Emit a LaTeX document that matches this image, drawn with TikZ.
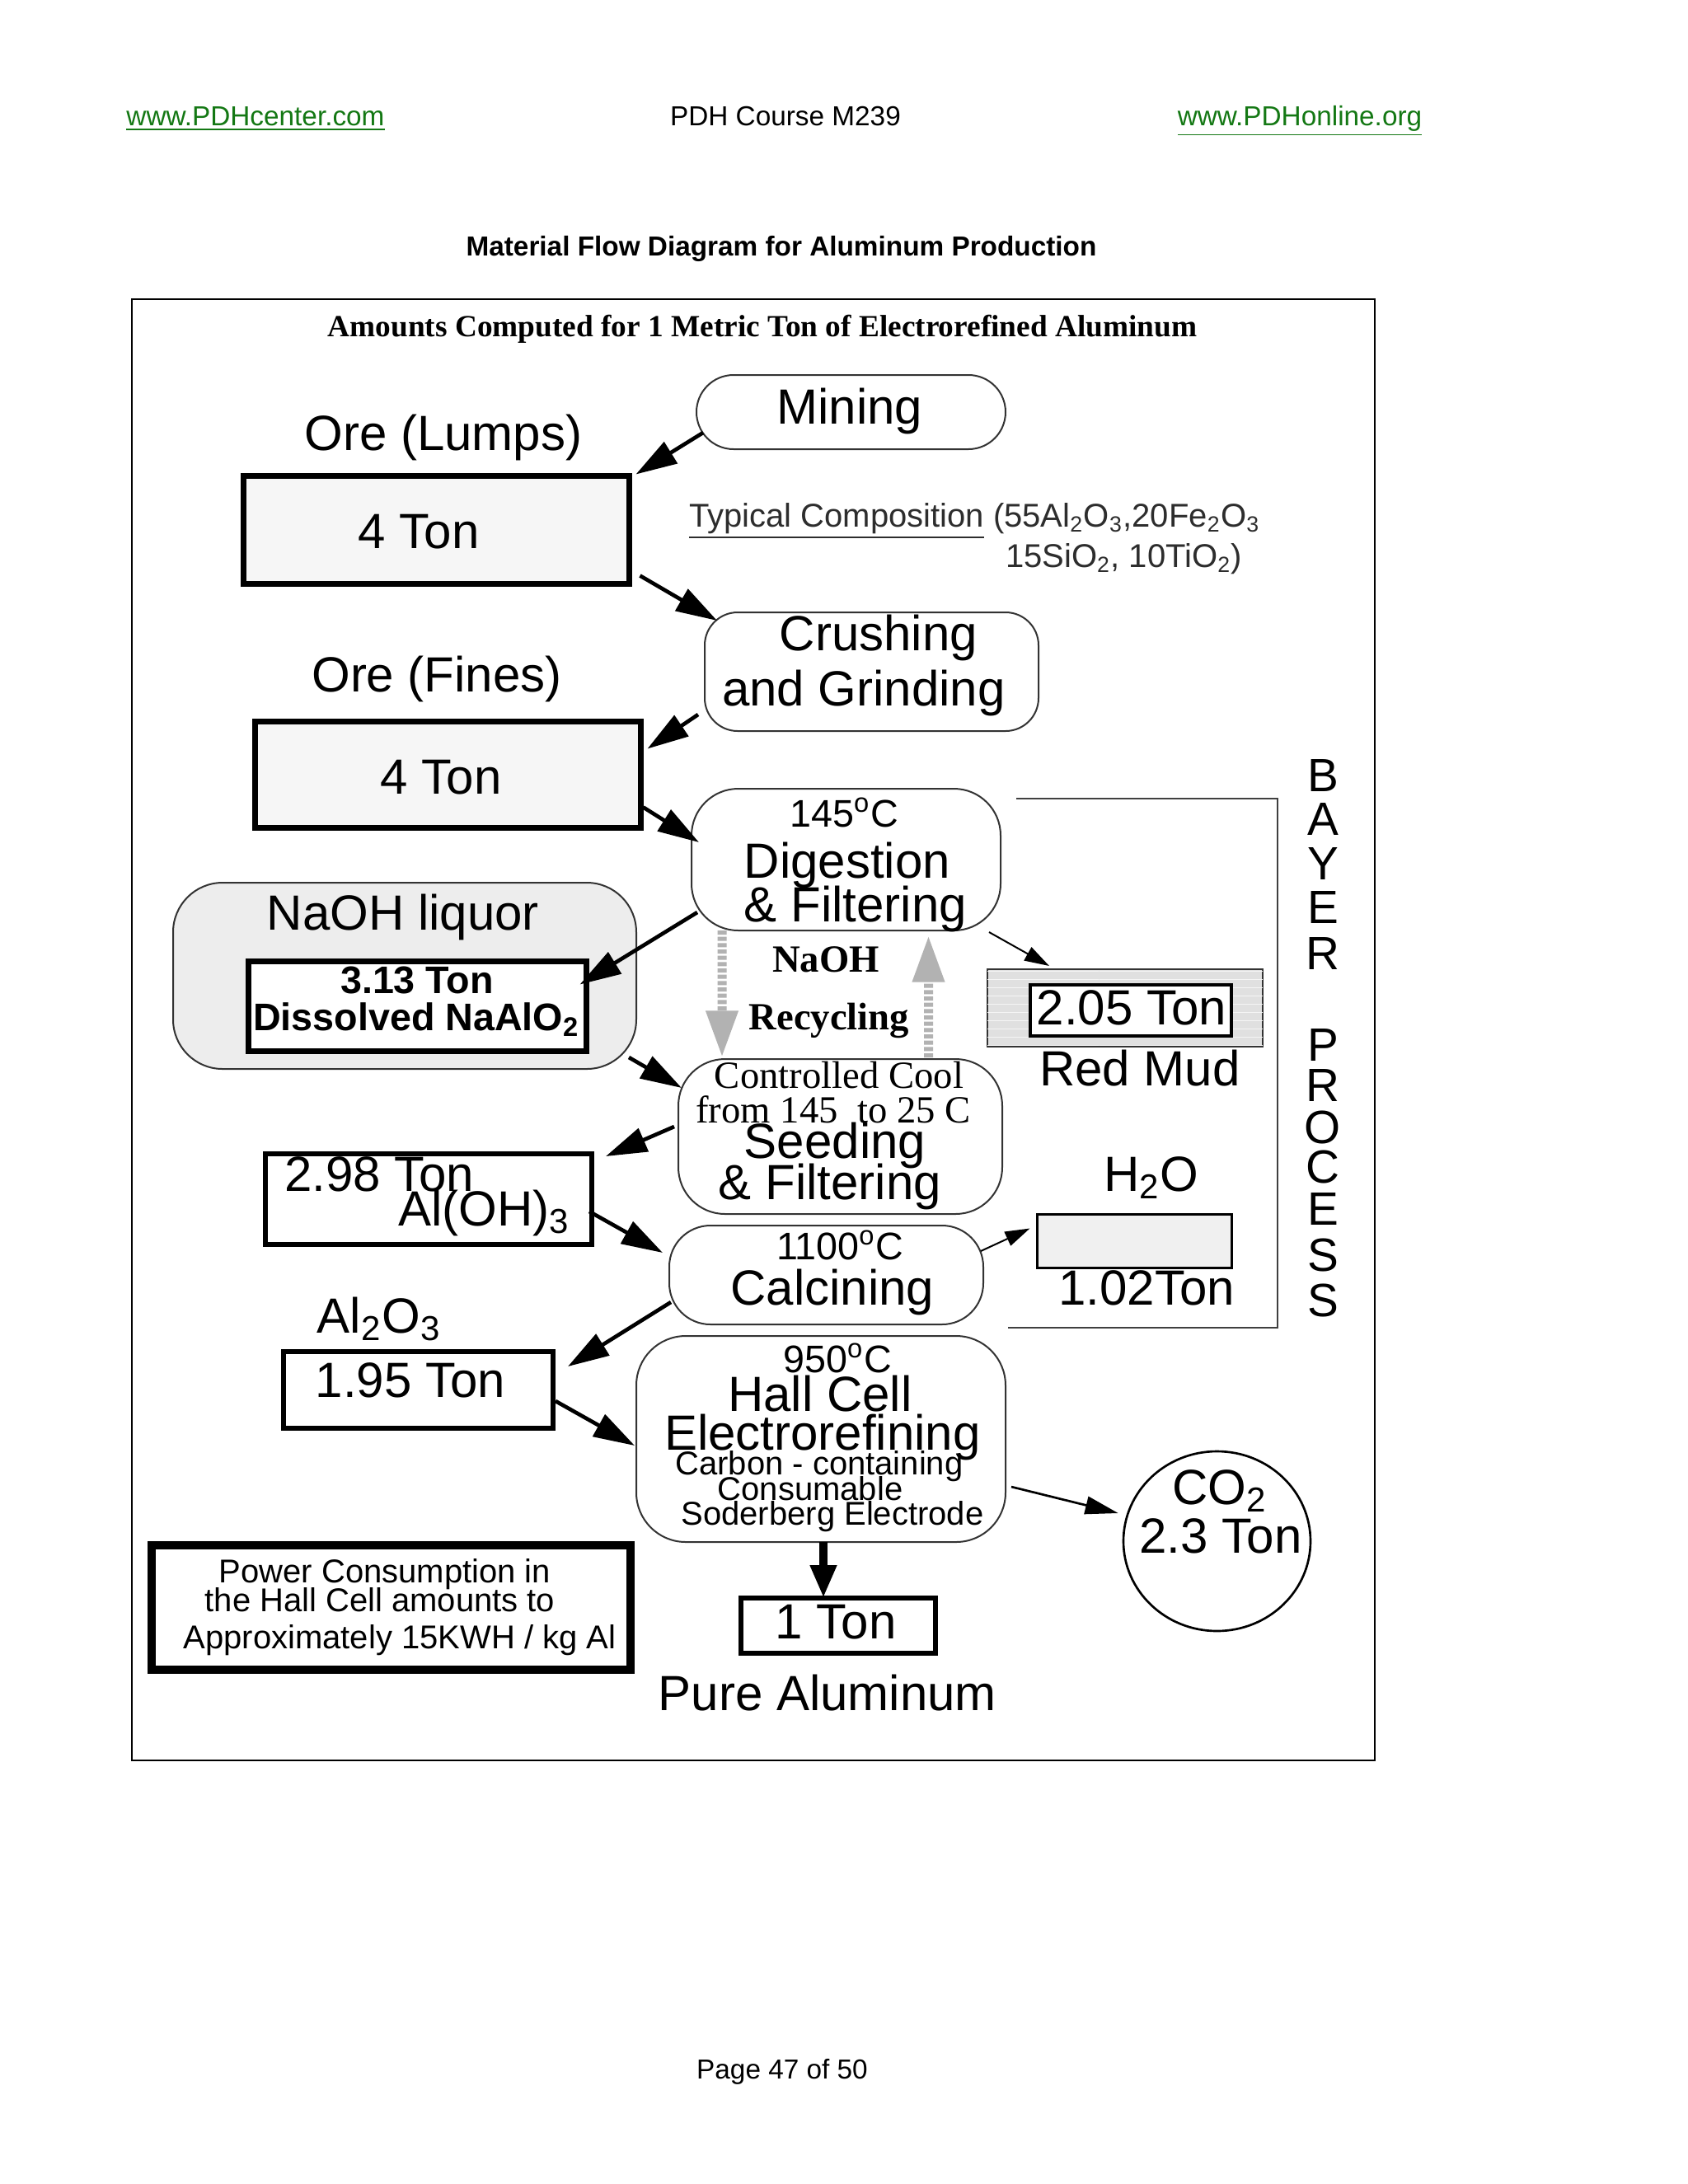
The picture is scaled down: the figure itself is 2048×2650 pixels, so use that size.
\documentclass[tikz,border=0pt]{standalone}
\usepackage{fontspec}
\setmainfont{Liberation Sans}
\newfontfamily\serifft{Liberation Serif}
\usetikzlibrary{arrows.meta,patterns,shapes.geometric}
\definecolor{pdhgreen}{RGB}{20,120,20}
\definecolor{compgray}{RGB}{45,45,45}
\begin{document}
\begin{tikzpicture}[x=0.3pt,y=-0.3pt,
  txt/.style={anchor=base,inner sep=0pt,outer sep=0pt},
  txtw/.style={anchor=base west,inner sep=0pt,outer sep=0pt},
  fnB/.style={font=\fontsize{18}{20}\selectfont},
  fnL/.style={font=\fontsize{17}{20}\selectfont},
  fnM/.style={font=\fontsize{14}{16}\selectfont},
  fnMB/.style={font=\fontsize{14}{16}\selectfont\bfseries},
  fnMS/.style={font=\fontsize{14}{16}\selectfont\serifft},
  fnMSB/.style={font=\fontsize{14}{16}\selectfont\serifft\bfseries},
  fnS/.style={font=\fontsize{12}{14}\selectfont},
  fnT/.style={font=\fontsize{10}{12}\selectfont},
  rbox/.style={draw=black!80,line width=0.6pt,fill=white,inner sep=0pt,outer sep=0pt},
  tbox/.style={draw=black,line width=2.1pt,fill=white,inner sep=0pt,outer sep=0pt},
  arrH/.style={line width=1.4pt,-{Triangle[length=15pt,width=9pt]}},
  arrM/.style={line width=0.8pt,-{Triangle[length=12pt,width=6.5pt]}},
  arrT/.style={line width=0.6pt,-{Triangle[length=9pt,width=5.5pt]}},
  arrV/.style={line width=3pt,-{Triangle[length=12pt,width=9pt]}},
  arrR/.style={line width=3.3pt,draw=gray!60,dash pattern=on 1.5pt off 0.8pt,
               -{Triangle[length=17pt,width=11pt,fill=gray!60]}}
]
\useasboundingbox (0,0) rectangle (2048,2650);
\fill[white] (0,0) rectangle (2048,2650);

% header
\node[txt,fnT,text=pdhgreen] (hleft) at (310,152) {\underline{www.PDHcenter.com}};
\node[txt,fnT] (hmid) at (953,152) {PDH Course M239};
\node[txt,fnT,text=pdhgreen] (hright) at (1577,152) {\underline{www.PDHonline.org}};
\node[txt,fnT,font=\fontsize{10}{12}\selectfont\bfseries] (title) at (948,310) {Material Flow Diagram for Aluminum Production};

% frame
\draw[line width=0.8pt] (160,363) rectangle (1668,2136);
\node[txt,font=\fontsize{11.2}{13}\selectfont\serifft\bfseries] (amounts) at (925,408) {Amounts Computed for 1 Metric Ton of Electrorefined Aluminum};

% boxes
\node[rbox,rounded corners=13.5pt,minimum width=112.5pt,minimum height=27pt] (mining) at (1032.5,500) {};
\node[tbox,fill=gray!7,minimum width=140.4pt,minimum height=39.3pt] (fourA) at (529.5,643) {};
\node[rbox,rounded corners=12pt,minimum width=121.5pt,minimum height=43.2pt] (crush) at (1057.5,815) {};
\node[tbox,fill=gray!7,minimum width=140.4pt,minimum height=38.7pt] (fourB) at (543.5,940) {};
\node[rbox,rounded corners=17pt,minimum width=112.5pt,minimum height=51.6pt] (digest) at (1026.5,1043) {};
\node[rbox,fill=gray!14,rounded corners=18pt,minimum width=168.6pt,minimum height=67.8pt] (naoh) at (491,1184) {};
\node[tbox,minimum width=123pt,minimum height=32.7pt] (dissolved) at (506.5,1221) {};
\node[draw=black!80,line width=0.6pt,fill=gray!24,inner sep=0pt,minimum width=100.2pt,minimum height=28.2pt,
      postaction={pattern=horizontal lines,pattern color=gray!8}] (redmud) at (1365,1223) {};
\node[draw=black,line width=1.2pt,fill=white,inner sep=0pt,minimum width=73.2pt,minimum height=18.6pt] (redin) at (1372,1226) {};
\node[rbox,rounded corners=17pt,minimum width=117.9pt,minimum height=56.4pt] (cool) at (1019.5,1379) {};
\node[tbox,line width=1.9pt,minimum width=118.8pt,minimum height=33pt] (aloh) at (520,1455) {};
\node[rbox,rounded corners=15pt,minimum width=114.3pt,minimum height=36pt] (calc) at (1002.5,1547) {};
\node[draw=black,line width=0.9pt,fill=gray!12,inner sep=0pt,minimum width=70.8pt,minimum height=19.5pt] (h2obox) at (1376,1505.5) {};
\node[tbox,line width=1.9pt,minimum width=98.1pt,minimum height=27.9pt] (alo3) at (507.5,1686.5) {};
\node[rbox,rounded corners=18pt,minimum width=134.4pt,minimum height=75pt] (hall) at (996,1746) {};
\node[ellipse,draw=black,line width=0.8pt,fill=white,inner sep=0pt,minimum width=68.1pt,minimum height=65.4pt] (co2) at (1476.5,1870) {};
\node[tbox,line width=1.9pt,minimum width=70.8pt,minimum height=20.1pt] (oneton) at (1017,1972.5) {};
\node[tbox,line width=3pt,minimum width=174.3pt,minimum height=45.3pt] (power) at (474.5,1950.5) {};

% Bayer bracket
\draw[line width=0.8pt,black!75] (1233,969) -| (1550,1611) -- (1223,1611);

% texts
\node[txt,fnB] (tmining) at (1031,514) {Mining};
\node[txt,fnB] (tlumps) at (538,546) {Ore (Lumps)};
\node[txt,fnB] (tfourA) at (508,665) {4 Ton};
\node[txtw,fnS,text=compgray] (tcomp1) at (836,639) {\underline{Typical Composition} (55Al\textsubscript{2}O\textsubscript{3},20Fe\textsubscript{2}O\textsubscript{3}};
\node[txtw,fnS,text=compgray] (tcomp2) at (1220,688) {15SiO\textsubscript{2}, 10TiO\textsubscript{2})};
\node[txt,fnB] (tcrush1) at (1066,789) {Crushing};
\node[txt,fnB] (tcrush2) at (1048,856) {and Grinding};
\node[txt,fnB] (tfines) at (530,839) {Ore (Fines)};
\node[txt,fnB] (tfourB) at (535,963) {4 Ton};
\node[txt,fnM] (tdig0) at (1024,1003) {145\textsuperscript{o}C};
\node[txt,fnB] (tdig1) at (1028,1065) {Digestion};
\node[txt,fnB] (tdig2) at (1038,1118) {\& Filtering};
\node[txt,fnB] (tnaoh) at (489,1128) {NaOH liquor};
\node[txt,fnMB] (tdis1) at (506,1205) {3.13 Ton};
\node[txt,fnMB] (tdis2) at (505,1250) {Dissolved NaAlO\textsubscript{2}};
\node[txt,fnMSB] (trec1) at (1002,1179) {NaOH};
\node[txt,fnMSB] (trec2) at (1006,1249) {Recycling};
\node[txt,fnB] (tred1) at (1373,1243) {2.05 Ton};
\node[txt,fnB] (tred2) at (1383,1317) {Red Mud};
\node[txt,fnMS] (tcool1) at (1018,1320) {Controlled Cool};
\node[txt,fnMS] (tcool2) at (1011,1362) {from 145\ \ to 25 C};
\node[txt,fnB] (tcool3) at (1013,1405) {Seeding};
\node[txt,fnB] (tcool4) at (1007,1455) {\& Filtering};
\node[txtw,fnB] (taloh1) at (345,1445) {2.98 Ton};
\node[txtw,fnB] (taloh2) at (483,1487) {Al(OH)\textsubscript{3}};
\node[txt,fnM] (tcalc1) at (1019,1528) {1100\textsuperscript{o}C};
\node[txt,fnB] (tcalc2) at (1010,1583) {Calcining};
\node[txt,fnB] (th2o) at (1397,1445) {H\textsubscript{2}O};
\node[txt,fnB] (th2oton) at (1391,1583) {1.02Ton};
\node[txt,fnB] (tal2o3) at (460,1617) {Al\textsubscript{2}O\textsubscript{3}};
\node[txt,fnB] (talo3) at (498,1695) {1.95 Ton};
\node[txt,fnM] (thall0) at (1016,1665) {950\textsuperscript{o}C};
\node[txt,fnB] (thall1) at (995,1712) {Hall Cell};
\node[txt,fnB] (thall2) at (998,1759) {Electrorefining};
\node[txt,fnS] (thall3) at (994,1789) {Carbon - containing};
\node[txt,fnS] (thall4) at (983,1820) {Consumable};
\node[txt,fnS] (thall5) at (1010,1850) {Soderberg Electrode};
\node[txt,fnB] (tco2a) at (1480,1825) {CO\textsubscript{2}};
\node[txt,fnB] (tco2b) at (1481,1884) {2.3 Ton};
\node[txt,fnB] (tone) at (1014,1988) {1 Ton};
\node[txt,fnB] (tpure) at (1004,2075) {Pure Aluminum};
\node[txt,fnS] (tpow1) at (467,1920) {Power Consumption in};
\node[txt,fnS] (tpow2) at (461,1955) {the Hall Cell amounts to};
\node[txt,fnS] (tpow3) at (485,2000) {Approximately 15KWH / kg Al};
\foreach \l/\yy [count=\i] in {B/960,A/1013,Y/1067,E/1120,R/1176,P/1287,R/1336,O/1387,C/1435,E/1486,S/1542,S/1597}
  \node[txt,fnL] (bay\i) at (1605,\yy) {\l};
\node[txt,fnT] (footer) at (949,2522) {Page 47 of 50};

% connectors
\draw[arrH] ([shift={(8,-20)}]mining.south west) -- ([shift={(8,-2)}]fourA.north east);
\draw[arrH] ([shift={(13,-10)}]fourA.south east) -- ([shift={(15,10)}]crush.north west);
\draw[arrH] ([shift={(-8,-20)}]crush.south west) -- ([shift={(8,33)}]fourB.north east);
\draw[arrH] ([shift={(3,-25)}]fourB.south east) -- ([shift={(9,65)}]digest.north west);
\draw[arrH] ([shift={(7,-22)}]digest.south west) -- ([shift={(-8,28)}]dissolved.north east);
\draw[arrR] ([shift={(37,0)}]digest.south west) -- ([shift={(53,-2)}]cool.north west);
\draw[arrR] ([shift={(-89.5,-2)}]cool.north east) -- ([shift={(-87.5,6)}]digest.south east);
\draw[arrT] ([shift={(-14,2)}]digest.south east) -- ([shift={(76,-3)}]redmud.north west);
\draw[arrH] ([shift={(-9,-14)}]naoh.south east) -- ([shift={(4,35)}]cool.north west);
\draw[arrH] ([shift={(-5,82)}]cool.north west) -- ([shift={(17,3)}]aloh.north east);
\draw[arrH] ([shift={(-3,-40)}]aloh.south east) -- ([shift={(-8,33)}]calc.north west);
\draw[arrT] ([shift={(-3,31)}]calc.north east) -- ([shift={(-7,19)}]h2obox.north west);
\draw[arrH] ([shift={(2,-27)}]calc.south west) -- ([shift={(18,18)}]alo3.north east);
\draw[arrH] ([shift={(3,-33)}]alo3.south east) -- ([shift={(-2,133)}]hall.north west);
\draw[arrM] ([shift={(7,183)}]hall.north east) -- ([shift={(-5,-34)}]co2.west);
\draw[arrV] ([shift={(3,0)}]hall.south) -- ([shift={(-18,0)}]oneton.north);
\end{tikzpicture}
\end{document}
